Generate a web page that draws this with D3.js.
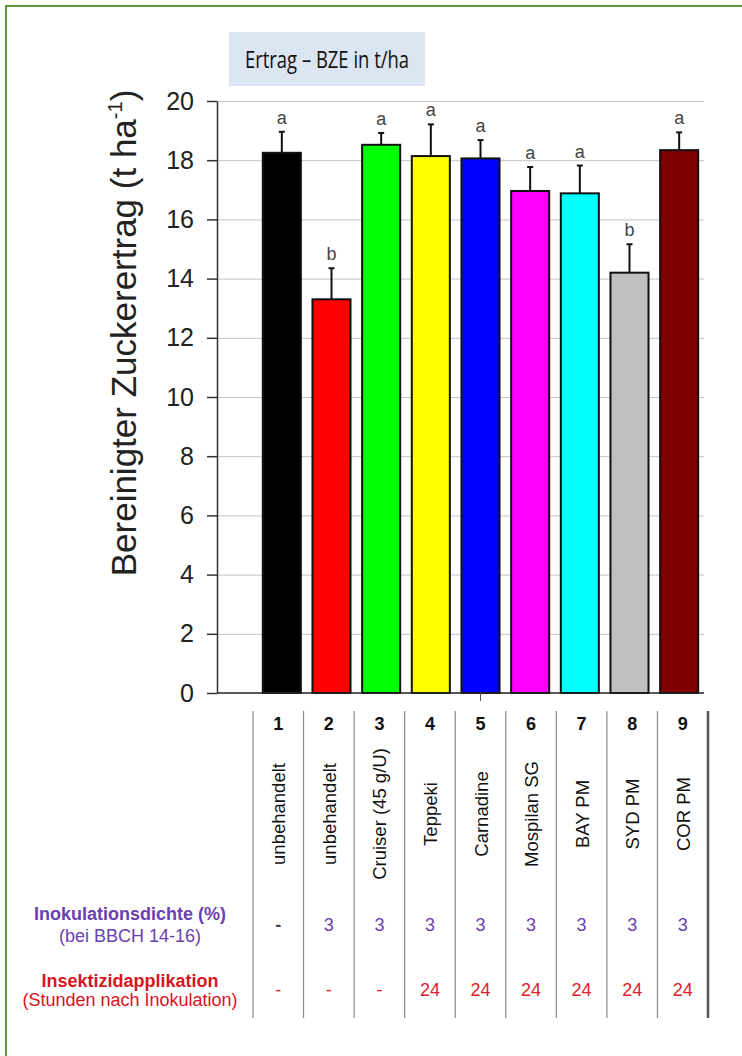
<!DOCTYPE html>
<html>
<head>
<meta charset="utf-8">
<script src="https://cdn.jsdelivr.net/npm/d3@7"></script>
<style>
  body { margin: 0; background: #fff; }
  svg { display: block; }
  text { font-family: 'Liberation Sans', Arial, sans-serif; }
</style>
</head>
<body>
<div id="canvas"></div>
<script>
const W = 742
const H = 1056

// data
const nums = ['1', '2', '3', '4', '5', '6', '7', '8', '9']
const products = ['unbehandelt', 'unbehandelt', 'Cruiser (45 g/U)', 'Teppeki', 'Carnadine', 'Mospilan SG', 'BAY PM', 'SYD PM', 'COR PM']
const yieldMean = [18.25, 13.30, 18.52, 18.14, 18.06, 16.96, 16.88, 14.20, 18.34]
const yieldErr = [0.71, 1.05, 0.40, 1.07, 0.62, 0.81, 0.94, 0.96, 0.60]
const letters = ['a', 'b', 'a', 'a', 'a', 'a', 'a', 'b', 'a']
const density = ['-', '3', '3', '3', '3', '3', '3', '3', '3']
const application = ['-', '-', '-', '24', '24', '24', '24', '24', '24']
const yTicks = [0, 2, 4, 6, 8, 10, 12, 14, 16, 18, 20]
const barColors = ['#000000', '#ff0000', '#00ff00', '#ffff00', '#0000ff', '#ff00ff', '#00ffff', '#c0c0c0', '#800000']

const svg = d3.select('#canvas')
	.append('svg')
	.attr('width', W)
	.attr('height', H);

// green frame
svg.append('rect')
	.attr('x', 6).attr('y', 6)
	.attr('width', W + 10).attr('height', H + 10)
	.attr('fill', 'none')
	.attr('stroke', '#5f9640')
	.attr('stroke-width', 2);

const plotLeft = 217, plotRight = 704
const y = d3.scaleLinear().domain([0, 20]).range([693, 101]);
const x = d3.scaleBand()
	.domain(nums)
	.range([257, 704])
	.paddingInner(0.234)
	.paddingOuter(0.117);

// grid
svg.append('g')
	.attr('transform', `translate(${plotLeft}, 0)`)
	.call(d3.axisLeft(y).tickValues(yTicks.slice(1)).tickSize(-(plotRight - plotLeft)).tickFormat(''))
	.call(g => g.select('.domain').remove())
	.selectAll('line')
	.attr('stroke', '#c4c4c4')
	.attr('stroke-width', 1);

// bars
svg.append('g').selectAll('rect')
	.data(yieldMean)
	.enter()
	.append('rect')
		.attr('x', (d, i) => x(nums[i]))
		.attr('y', d => y(d))
		.attr('width', x.bandwidth())
		.attr('height', d => y(0) - y(d))
		.attr('fill', (d, i) => barColors[i])
		.attr('stroke', '#111')
		.attr('stroke-width', 2);

// error bars (upper only)
const err = svg.append('g').attr('stroke', '#111').attr('stroke-width', 2);
yieldMean.forEach((m, i) => {
	const cx = x(nums[i]) + x.bandwidth() / 2;
	err.append('line')
		.attr('x1', cx).attr('x2', cx)
		.attr('y1', y(m)).attr('y2', y(m + yieldErr[i]));
	err.append('line')
		.attr('x1', cx - 3).attr('x2', cx + 3)
		.attr('y1', y(m + yieldErr[i])).attr('y2', y(m + yieldErr[i]));
});

// significance letters
svg.append('g').selectAll('text')
	.data(letters)
	.enter()
	.append('text')
		.attr('x', (d, i) => x(nums[i]) + x.bandwidth() / 2)
		.attr('y', (d, i) => y(yieldMean[i] + yieldErr[i]) - 8)
		.attr('text-anchor', 'middle')
		.attr('font-size', 18)
		.attr('fill', '#444')
		.text(d => d);

// y axis
const yAxisGroup = svg.append('g')
	.attr('transform', `translate(${plotLeft}, 0)`)
	.call(d3.axisLeft(y).tickValues(yTicks).tickSize(10).tickSizeOuter(0).tickPadding(13));
yAxisGroup.select('.domain').attr('stroke', '#333').attr('stroke-width', 1.5);
yAxisGroup.selectAll('line').attr('stroke', '#333').attr('stroke-width', 1.5);
yAxisGroup.selectAll('text')
	.attr('font-size', 25)
	.attr('fill', '#222');

// baseline
svg.append('line')
	.attr('x1', plotLeft).attr('x2', plotRight)
	.attr('y1', y(0)).attr('y2', y(0))
	.attr('stroke', '#222').attr('stroke-width', 1.5);
svg.append('line')
	.attr('x1', x('5') + x.bandwidth() / 2).attr('x2', x('5') + x.bandwidth() / 2)
	.attr('y1', y(0)).attr('y2', y(0) + 8)
	.attr('stroke', '#555').attr('stroke-width', 1);

// y title
const yTitle = svg.append('text')
	.attr('transform', 'translate(136, 333) rotate(-90)')
	.attr('text-anchor', 'middle')
	.attr('font-size', 35)
	.attr('fill', '#222');
yTitle.append('tspan').text('Bereinigter Zuckerertrag (t ha');
yTitle.append('tspan').attr('font-size', 20).attr('dy', -14).text('-1');
yTitle.append('tspan').attr('dy', 14).text(')');

// title box
svg.append('rect')
	.attr('x', 229).attr('y', 32)
	.attr('width', 196).attr('height', 54)
	.attr('fill', '#dce6f2');
svg.append('text')
	.attr('x', 327).attr('y', 68)
	.attr('text-anchor', 'middle')
	.style('font-family', "'Open Sans', sans-serif")
	.attr('font-size', 24)
	.attr('textLength', 164)
	.attr('lengthAdjust', 'spacingAndGlyphs')
	.attr('fill', '#111')
	.text('Ertrag – BZE in t/ha');

// table below the chart
const xt = d3.scaleBand().domain(nums).range([253, 708]);
const table = svg.append('g');

table.selectAll('line.col')
	.data(nums.concat(['end']))
	.enter()
	.append('line')
		.attr('x1', (d, i) => 253 + i * xt.step())
		.attr('x2', (d, i) => 253 + i * xt.step())
		.attr('y1', 711).attr('y2', 1018)
		.attr('stroke', (d, i) => i === nums.length ? '#555' : '#888')
		.attr('stroke-width', (d, i) => i === nums.length ? 2.5 : 1.2);

table.selectAll('text.num')
	.data(nums)
	.enter()
	.append('text')
		.attr('x', d => xt(d) + xt.bandwidth() / 2)
		.attr('y', 730)
		.attr('text-anchor', 'middle')
		.attr('font-size', 18)
		.attr('font-weight', 'bold')
		.attr('fill', '#111')
		.text(d => d);

table.selectAll('text.prod')
	.data(products)
	.enter()
	.append('text')
		.attr('transform', (d, i) => `translate(${xt(nums[i]) + xt.bandwidth() / 2 + 7}, 814) rotate(-90)`)
		.attr('text-anchor', 'middle')
		.attr('font-size', 18.5)
		.attr('fill', '#111')
		.text(d => d);

table.selectAll('text.dens')
	.data(density)
	.enter()
	.append('text')
		.attr('x', (d, i) => xt(nums[i]) + xt.bandwidth() / 2)
		.attr('y', 931)
		.attr('text-anchor', 'middle')
		.attr('font-size', 18)
		.attr('font-weight', d => d === '-' ? 'bold' : 'normal')
		.attr('fill', d => d === '-' ? '#444' : '#6a3fb0')
		.text(d => d);

table.selectAll('text.appl')
	.data(application)
	.enter()
	.append('text')
		.attr('x', (d, i) => xt(nums[i]) + xt.bandwidth() / 2)
		.attr('y', 996)
		.attr('text-anchor', 'middle')
		.attr('font-size', 18)
		.attr('fill', '#e0202a')
		.text(d => d);

// row headers
const rowHead = [
	{t: 'Inokulationsdichte (%)', y: 920, w: 'bold', c: '#6a3fb0'},
	{t: '(bei BBCH 14-16)', y: 942, w: 'normal', c: '#6a3fb0'},
	{t: 'Insektizidapplikation', y: 987, w: 'bold', c: '#d8141e'},
	{t: '(Stunden nach Inokulation)', y: 1006, w: 'normal', c: '#d8141e'}
];
table.selectAll('text.head')
	.data(rowHead)
	.enter()
	.append('text')
		.attr('x', 130)
		.attr('y', d => d.y)
		.attr('text-anchor', 'middle')
		.attr('font-size', 18)
		.attr('font-weight', d => d.w)
		.attr('fill', d => d.c)
		.text(d => d.t);
</script>
</body>
</html>
